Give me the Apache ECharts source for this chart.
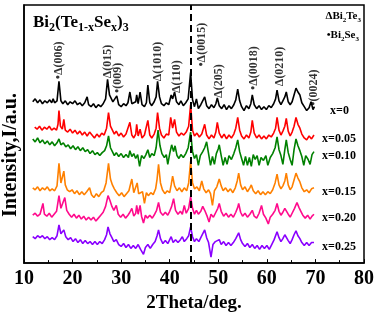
<!DOCTYPE html>
<html>
<head>
<meta charset="utf-8">
<script src="https://cdn.jsdelivr.net/npm/echarts@6/dist/echarts.min.js"></script>
<style>
  html, body { margin: 0; padding: 0; background: #fff; }
  #chart { width: 377px; height: 318px; }
</style>
</head>
<body>
<div id="chart"></div>
<script>
// XRD patterns of Bi2(Te1-xSex)3, stacked with offsets (arbitrary units)
var sampleNames = ['x=0', 'x=0.05', 'x=0.10', 'x=0.15', 'x=0.20', 'x=0.25'];
var sampleColors = ['#000000', '#ff0000', '#008000', '#ff8000', '#ff0a8c', '#8a00ff'];

var patX0 = [[11.8,165],[12.3,168],[12.8,164],[13.3,167],[13.8,163],[14.3,166],[14.8,164],[15.3,167],[15.7,164],[16.0,168],[16.3,164],[16.8,166],[17.2,186],[17.6,166],[18.0,163],[18.5,166],[19.0,162],[19.5,165],[20.0,163],[20.5,166],[21.0,162],[21.5,164],[22.0,161],[22.5,164],[23.0,170],[23.3,162],[23.8,160],[24.3,163],[24.8,159],[25.3,162],[25.8,160],[26.3,163],[26.8,168],[27.2,188],[27.6,172],[28.0,170],[28.3,165],[28.7,168],[29.1,171],[29.5,162],[30.0,160],[30.5,163],[31.0,161],[31.4,164],[31.8,175],[32.2,163],[32.6,161],[33.0,165],[33.2,172],[33.5,163],[33.9,175],[34.3,162],[34.8,160],[35.2,164],[35.5,182],[35.9,164],[36.3,161],[36.8,165],[37.2,170],[37.5,186],[37.9,170],[38.3,163],[38.8,161],[39.3,164],[39.8,162],[40.3,172],[40.6,168],[41.0,175],[41.4,165],[41.9,162],[42.3,166],[42.8,161],[43.3,164],[43.8,168],[44.3,195],[44.7,167],[45.1,160],[45.5,168],[45.9,158],[46.4,162],[46.8,160],[47.2,170],[47.6,161],[48.1,158],[48.6,162],[49.1,159],[49.5,163],[49.8,169],[50.2,161],[50.7,158],[51.2,162],[51.7,157],[52.2,161],[52.7,158],[53.2,162],[53.6,167],[54.0,178],[54.4,166],[54.8,160],[55.3,156],[55.8,161],[56.3,158],[56.7,163],[57.0,172],[57.4,162],[57.9,158],[58.4,161],[58.9,157],[59.4,160],[59.9,157],[60.4,161],[60.9,159],[61.4,163],[61.8,168],[62.1,177],[62.5,166],[62.9,162],[63.3,166],[63.7,170],[64.0,175],[64.4,165],[64.8,162],[65.2,165],[65.6,172],[66.0,179],[66.4,175],[66.8,172],[67.2,164],[67.7,160],[68.2,156],[68.7,159],[69.1,165],[69.5,157],[69.8,160]];

var patX005 = [[12.2,139],[12.7,137],[13.2,140],[13.7,136],[14.2,139],[14.7,137],[15.2,140],[15.7,136],[16.2,138],[16.7,136],[17.0,142],[17.2,156],[17.5,140],[17.9,137],[18.2,147],[18.5,136],[19.0,134],[19.5,137],[20.0,133],[20.5,136],[21.0,132],[21.5,135],[22.0,131],[22.5,134],[23.0,130],[23.5,134],[24.0,131],[24.5,128],[25.0,132],[25.5,129],[26.0,133],[26.5,131],[27.0,138],[27.4,154],[27.8,140],[28.2,136],[28.6,132],[29.0,135],[29.5,130],[30.0,133],[30.5,129],[31.0,132],[31.4,130],[31.8,144],[32.2,131],[32.6,128],[33.0,132],[33.2,142],[33.5,130],[33.9,137],[34.3,128],[34.8,131],[35.2,129],[35.5,146],[35.9,131],[36.3,128],[36.8,132],[37.2,138],[37.5,154],[37.9,138],[38.3,131],[38.8,128],[39.3,132],[39.8,131],[40.2,149],[40.6,138],[41.0,147],[41.4,134],[41.9,130],[42.4,133],[42.9,131],[43.4,134],[43.9,140],[44.3,162],[44.7,136],[45.1,130],[45.6,133],[46.1,129],[46.6,132],[47.2,142],[47.6,131],[48.1,127],[48.6,131],[49.1,128],[49.5,134],[49.8,144],[50.2,133],[50.7,128],[51.2,132],[51.7,127],[52.2,131],[52.7,128],[53.2,132],[53.6,138],[54.0,149],[54.4,136],[54.8,130],[55.3,127],[55.8,131],[56.3,128],[56.7,134],[57.0,146],[57.4,133],[57.9,128],[58.4,131],[58.9,127],[59.4,130],[59.9,127],[60.4,131],[60.9,129],[61.4,133],[61.8,138],[62.1,149],[62.5,136],[62.9,131],[63.3,135],[63.7,140],[64.0,148],[64.4,135],[64.8,130],[65.2,134],[65.6,140],[66.0,149],[66.4,142],[66.8,138],[67.2,132],[67.7,128],[68.2,126],[68.7,130],[69.2,127],[69.7,131]];

var patX010 = [[11.8,127],[12.3,124],[12.8,128],[13.3,123],[13.8,126],[14.3,122],[14.8,125],[15.3,121],[15.8,124],[16.3,120],[16.8,123],[17.2,127],[17.6,121],[18.1,123],[18.6,119],[19.1,121],[19.6,117],[20.1,120],[20.6,116],[21.1,119],[21.6,115],[22.1,118],[22.6,114],[23.1,116],[23.6,112],[24.1,115],[24.6,111],[25.1,113],[25.6,110],[26.1,113],[26.6,115],[27.0,120],[27.4,130],[27.8,118],[28.2,114],[28.6,110],[29.0,113],[29.5,109],[30.0,112],[30.5,108],[31.0,111],[31.5,108],[31.8,115],[32.2,109],[32.6,112],[33.0,107],[33.4,111],[33.8,99],[34.2,110],[34.7,107],[35.1,111],[35.5,116],[35.9,108],[36.3,112],[36.8,110],[37.2,118],[37.6,136],[38.0,120],[38.4,112],[38.9,108],[39.3,111],[39.6,101],[40.0,112],[40.4,121],[40.8,114],[41.1,120],[41.5,110],[41.9,107],[42.3,111],[42.8,108],[43.3,112],[43.8,118],[44.3,134],[44.7,114],[45.1,107],[45.5,111],[45.9,100],[46.3,110],[46.8,114],[47.2,118],[47.6,124],[48.0,112],[48.4,100],[48.8,109],[49.2,101],[49.6,112],[50.0,117],[50.2,121],[50.6,110],[51.0,100],[51.4,108],[51.8,101],[52.2,110],[52.7,106],[53.2,112],[53.6,118],[54.0,126],[54.4,114],[54.8,107],[55.2,100],[55.6,109],[56.0,100],[56.4,108],[56.8,99],[57.2,111],[57.6,106],[58.0,110],[58.4,100],[58.8,108],[59.3,105],[59.8,110],[60.2,100],[60.7,108],[61.2,112],[61.7,118],[62.1,129],[62.5,116],[62.9,110],[63.3,101],[63.7,116],[64.0,126],[64.4,113],[64.8,106],[65.2,100],[65.6,116],[66.0,127],[66.4,120],[66.8,115],[67.2,109],[67.6,100],[68.0,110],[68.5,106],[68.9,101],[69.3,111],[69.7,114]];

var patX015 = [[11.8,77],[12.3,75],[12.8,78],[13.3,74],[13.8,77],[14.3,75],[14.8,78],[15.3,74],[15.8,76],[16.3,74],[16.8,79],[17.2,102],[17.6,82],[17.9,84],[18.2,94],[18.5,80],[18.9,75],[19.4,73],[19.9,75],[20.4,71],[20.9,74],[21.4,70],[21.9,73],[22.4,70],[22.9,73],[23.5,77],[23.9,70],[24.4,67],[24.9,71],[25.4,68],[25.9,72],[26.4,74],[26.9,82],[27.4,102],[27.8,86],[28.2,80],[28.6,76],[29.1,72],[29.6,69],[30.1,72],[30.6,68],[31.1,71],[31.6,74],[32.2,86],[32.6,72],[33.0,74],[33.3,82],[33.6,71],[34.0,69],[34.4,73],[34.8,61],[35.2,72],[35.6,69],[36.1,72],[36.6,70],[37.1,76],[37.4,86],[37.7,101],[38.1,82],[38.5,75],[39.0,71],[39.5,74],[40.0,72],[40.3,80],[40.6,89],[41.0,79],[41.5,74],[42.0,77],[42.5,73],[43.0,77],[43.5,74],[43.9,82],[44.3,104],[44.7,82],[45.1,76],[45.6,78],[46.1,74],[46.6,84],[47.0,76],[47.5,72],[48.0,75],[48.4,71],[48.8,59],[49.2,74],[49.7,78],[50.2,86],[50.6,79],[51.0,74],[51.5,77],[52.0,73],[52.5,76],[53.0,72],[53.5,77],[53.9,84],[54.2,92],[54.6,80],[55.0,75],[55.5,78],[56.0,73],[56.5,77],[56.8,80],[57.2,74],[57.7,71],[58.2,74],[58.7,70],[59.2,73],[59.7,70],[60.2,73],[60.7,71],[61.2,75],[61.7,82],[62.1,91],[62.5,80],[62.9,76],[63.3,79],[63.7,84],[64.0,92],[64.4,80],[64.8,75],[65.2,78],[65.6,85],[66.0,92],[66.4,87],[66.8,83],[67.2,77],[67.7,73],[68.2,75],[68.7,72],[69.2,76],[69.7,77]];

var patX020 = [[11.8,49],[12.3,51],[12.8,48],[13.3,50],[13.6,52],[13.9,61],[14.2,50],[14.7,48],[15.2,51],[15.7,47],[16.2,50],[16.7,53],[17.2,69],[17.6,56],[18.0,58],[18.4,67],[18.8,54],[19.3,50],[19.8,47],[20.3,50],[20.8,46],[21.3,49],[21.8,45],[22.3,48],[22.8,44],[23.3,47],[23.8,44],[24.3,47],[24.8,43],[25.3,46],[25.8,49],[26.3,52],[26.8,58],[27.3,69],[27.7,64],[28.1,58],[28.5,54],[29.0,59],[29.4,50],[29.9,47],[30.4,50],[30.9,46],[31.4,49],[31.8,52],[32.2,56],[32.6,48],[33.0,51],[33.2,59],[33.5,50],[33.9,59],[34.2,48],[34.6,41],[35.0,49],[35.4,46],[35.9,49],[36.4,46],[36.9,50],[37.3,54],[37.7,62],[38.1,52],[38.6,49],[39.1,52],[39.6,49],[40.0,53],[40.4,58],[40.8,66],[41.2,54],[41.7,50],[42.2,53],[42.6,50],[43.0,59],[43.4,51],[43.9,56],[44.3,68],[44.7,56],[45.1,50],[45.5,54],[45.9,50],[46.4,53],[46.8,58],[47.2,54],[47.7,48],[48.1,42],[48.5,50],[49.0,47],[49.5,52],[49.9,56],[50.2,61],[50.6,53],[51.1,48],[51.6,51],[52.1,47],[52.6,50],[53.1,47],[53.6,52],[54.0,57],[54.2,61],[54.6,52],[55.0,48],[55.5,51],[56.0,47],[56.5,50],[57.0,54],[57.4,48],[57.9,46],[58.4,51],[58.9,59],[59.3,50],[59.8,46],[60.3,40],[60.7,47],[61.2,50],[61.7,54],[62.1,61],[62.5,53],[62.9,49],[63.3,52],[63.7,56],[64.0,58],[64.4,50],[64.8,47],[65.2,51],[65.7,56],[66.2,62],[66.6,57],[67.0,53],[67.4,49],[67.9,46],[68.4,49],[68.9,45],[69.3,48],[69.7,50]];

var patX025 = [[11.8,27],[12.3,25],[12.8,28],[13.3,26],[13.8,28],[14.3,25],[14.8,27],[15.3,24],[15.8,26],[16.3,24],[16.8,28],[17.2,39],[17.6,30],[17.9,31],[18.2,34],[18.6,27],[19.1,24],[19.6,26],[20.1,22],[20.6,25],[21.1,21],[21.6,24],[22.1,20],[22.6,23],[23.1,20],[23.6,22],[24.1,19],[24.6,22],[25.1,19],[25.6,22],[26.1,20],[26.6,24],[27.0,29],[27.3,37],[27.7,30],[28.1,26],[28.5,22],[29.0,24],[29.5,19],[30.0,17],[30.5,20],[31.0,16],[31.5,19],[32.0,15],[32.5,18],[33.0,15],[33.5,19],[34.0,14],[34.6,9],[35.0,16],[35.5,19],[36.0,15],[36.5,19],[37.0,22],[37.4,28],[37.7,34],[38.1,25],[38.6,20],[39.1,23],[39.6,20],[40.0,24],[40.3,27],[40.7,21],[41.2,24],[41.7,21],[42.2,24],[42.6,27],[43.0,22],[43.5,25],[43.9,28],[44.3,37],[44.7,27],[45.1,22],[45.5,25],[46.0,22],[46.5,27],[47.2,34],[47.6,26],[48.0,21],[48.5,6],[48.9,19],[49.4,22],[49.8,20],[50.2,24],[50.6,19],[51.1,22],[51.6,18],[52.1,21],[52.6,18],[53.1,21],[53.6,25],[54.2,31],[54.6,24],[55.0,20],[55.5,17],[56.0,20],[56.5,16],[57.0,19],[57.5,15],[58.0,18],[58.5,14],[59.0,18],[59.5,15],[60.0,18],[60.5,14],[61.0,19],[61.5,24],[62.1,32],[62.5,26],[62.9,22],[63.3,25],[63.7,29],[64.0,29],[64.4,23],[64.8,20],[65.2,24],[65.6,29],[66.0,33],[66.4,28],[66.8,25],[67.2,21],[67.7,18],[68.2,21],[68.7,18],[69.2,21],[69.7,21]];

var patterns = [patX0, patX005, patX010, patX015, patX020, patX025];

// reflection labels (drawn vertically above the x=0 pattern)
var peakLabels = ['•Δ(006)', 'Δ(015)', '•(009)', 'Δ(1010)', 'Δ(110)', '•Δ(0015)', 'Δ(205)', '•Δ(0018)', 'Δ(0210)', '•(0024)'];
var peakPos = [17.2, 27.3, 29.3, 37.5, 41.4, 46.7, 50.2, 57.4, 62.6, 69.7];
var peakLabelBase = [188, 189, 174, 186, 174, 201, 169, 177, 181, 161];

var refLine = 44.4;
var xTicks = { min: 10, max: 80, step: 10 };

var serif = 'Liberation Serif, Times New Roman, serif';
var chart = echarts.init(document.getElementById('chart'));

var series = [];
patterns.forEach(function(p, i) {
  series.push({
    name: sampleNames[i],
    type: 'line',
    data: p,
    symbol: 'none',
    lineStyle: { width: 1.6, color: sampleColors[i] },
    itemStyle: { color: sampleColors[i] },
    endLabel: {
      show: true,
      formatter: '{a}',
      color: '#000',
      fontFamily: serif,
      fontWeight: 'bold',
      fontSize: 12,
      distance: 0,
      align: 'center',
      offset: [25, 4]
    }
  });
});

series.push({
  type: 'scatter',
  symbolSize: 0,
  data: peakLabels.map(function(name, i) {
    return { name: name, value: [peakPos[i], peakLabelBase[i]] };
  }),
  label: {
    show: true,
    formatter: '{b}',
    position: [0, 0],
    rotate: 90,
    align: 'left',
    verticalAlign: 'middle',
    color: '#000',
    fontFamily: serif,
    fontWeight: 'bold',
    fontSize: 12
  },
  z: 5
});

series.push({
  type: 'line',
  data: [],
  markLine: {
    silent: true,
    symbol: 'none',
    label: { show: false },
    lineStyle: { color: '#000', type: [7, 4], width: 2 },
    data: [{ xAxis: refLine }]
  },
  z: 10
});

var sub = { fontFamily: serif, fontWeight: 'bold', color: '#000' };

chart.setOption({
  animation: false,
  backgroundColor: '#fff',
  grid: { left: 24, right: 12, top: 5, bottom: 49, show: true, borderColor: '#000', borderWidth: 1.5 },
  xAxis: {
    type: 'value',
    min: xTicks.min,
    max: xTicks.max,
    interval: xTicks.step,
    name: '2Theta/deg.',
    nameLocation: 'middle',
    nameGap: 23,
    nameTextStyle: { fontFamily: serif, fontWeight: 'bold', fontSize: 19, color: '#000' },
    axisLine: { lineStyle: { color: '#000', width: 1.5 } },
    axisTick: { inside: true, length: 4, lineStyle: { color: '#000' } },
    minorTick: { show: true, splitNumber: 2, length: 3, lineStyle: { color: '#000' } },
    splitLine: { show: false },
    axisLabel: { fontFamily: serif, fontWeight: 'bold', fontSize: 20, color: '#000', margin: 6 }
  },
  yAxis: {
    type: 'value',
    min: 0,
    max: 264,
    axisLine: { show: true, lineStyle: { color: '#000', width: 1.5 } },
    axisTick: { show: false },
    axisLabel: { show: false },
    splitLine: { show: false }
  },
  graphic: [
    {
      type: 'text', x: 11, y: 155,
      rotation: Math.PI / 2,
      style: {
        text: 'Intensity,I/a.u.',
        fontFamily: serif, fontWeight: 'bold', fontSize: 20, fill: '#000',
        align: 'center', verticalAlign: 'middle'
      }
    },
    {
      type: 'text', left: 33, top: 14,
      style: {
        text: '{m|Bi}{s|2}{m|(Te}{s|1-x}{m|Se}{s|x}{m|)}{s|3}',
        rich: {
          m: Object.assign({ fontSize: 17, lineHeight: 20, verticalAlign: 'top' }, sub),
          s: Object.assign({ fontSize: 12, lineHeight: 14, padding: [8, 0, 0, 0], verticalAlign: 'bottom' }, sub)
        }
      }
    },
    {
      type: 'text', right: 16, top: 11,
      style: {
        text: '{m|ΔBi}{s|2}{m|Te}{s|3}',
        rich: {
          m: Object.assign({ fontSize: 11, lineHeight: 13, verticalAlign: 'top' }, sub),
          s: Object.assign({ fontSize: 7, lineHeight: 8, padding: [6, 0, 0, 0], verticalAlign: 'bottom' }, sub)
        }
      }
    },
    {
      type: 'text', right: 18, top: 30,
      style: {
        text: '{m|•Bi}{s|2}{m|Se}{s|3}',
        rich: {
          m: Object.assign({ fontSize: 11, lineHeight: 13, verticalAlign: 'top' }, sub),
          s: Object.assign({ fontSize: 7, lineHeight: 8, padding: [6, 0, 0, 0], verticalAlign: 'bottom' }, sub)
        }
      }
    }
  ],
  series: series
});
</script>
</body>
</html>
